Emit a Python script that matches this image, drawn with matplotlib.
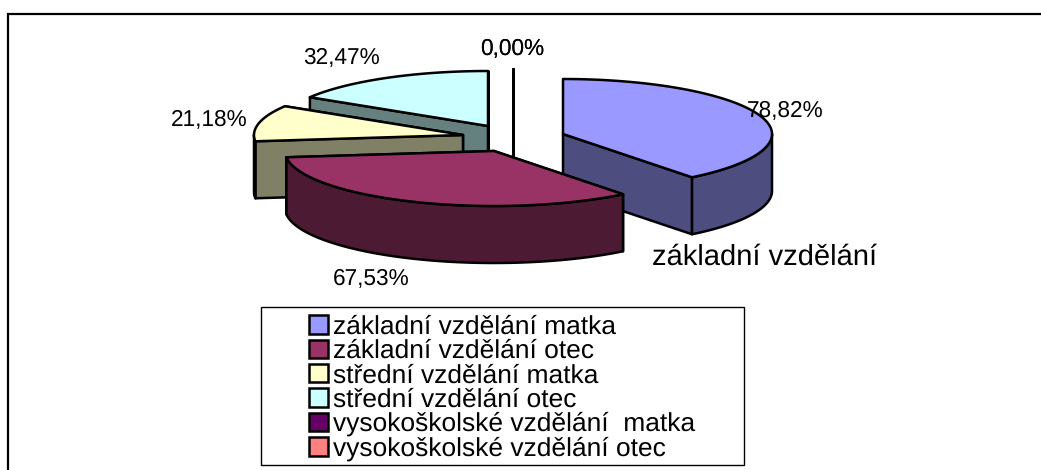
import numpy as np
import matplotlib
matplotlib.use("Agg")
import matplotlib.pyplot as plt
from matplotlib.colors import to_rgb
from matplotlib.patches import Polygon, Rectangle

plt.rcParams['font.family'] = ['Liberation Sans', 'DejaVu Sans']
plt.rcParams['text.hinting'] = 'no_hinting'

# Chart data
categories = ["základní vzdělání matka", "základní vzdělání otec", "střední vzdělání matka",
              "střední vzdělání otec", "vysokoškolské vzdělání  matka", "vysokoškolské vzdělání otec"]
percent = [78.82, 67.53, 21.18, 32.47, 0.0, 0.0]
colors = ["#9999FF", "#993366", "#FFFFCC", "#CCFFFF", "#660066", "#FF8080"]
group_label = "základní vzdělání"

# Layout in image pixels (the axes spans the whole figure, y pointing down)
W, H = 1041, 470
RX, RY, DEPTH = 209, 55, 57
centers = [(563, 134), (494, 151), (463, 135), (488, 126), (513, 124), (513, 124)]
label_pos = [(785, 111), (371, 279), (209, 120), (341, 58), (512, 49), (512, 49)]
draw_order = [3, 4, 5, 2, 0, 1]  # back to front
EDGE = 1.8


def rim_point(center, angle):
    # angle in degrees, clockwise from 12 o'clock
    a = np.radians(angle)
    return center[0] + RX * np.sin(a), center[1] - RY * np.cos(a)


def arc(center, start, end):
    angles = np.linspace(start, end, max(int(end - start) * 2, 2))
    return [rim_point(center, a) for a in angles]


def shifted(points):
    return [(x, y + DEPTH) for x, y in points]


def add_poly(ax, points, color):
    ax.add_patch(Polygon(points, closed=True, facecolor=color, edgecolor='black',
                         linewidth=EDGE, joinstyle='round'))


def draw_slice(ax, center, start, end, color):
    dark = tuple(c * 0.5 for c in to_rgb(color))

    # cut faces first, the hidden ones end up under the rim and the top
    faces = sorted([start, end], key=lambda a: -np.cos(np.radians(a)))
    for angle in faces:
        edge = [center, rim_point(center, angle)]
        add_poly(ax, edge + shifted(edge)[::-1], dark)

    # outer wall, only the part on the front half of the ellipse
    low, high = max(start, 90), min(end, 270)
    if high > low:
        wall = arc(center, low, high)
        add_poly(ax, wall + shifted(wall)[::-1], dark)

    add_poly(ax, [center] + arc(center, start, end), color)


fig = plt.figure(figsize=(W / 100, H / 100), dpi=100)
ax = fig.add_axes([0, 0, 1, 1])
ax.set_xlim(0, W)
ax.set_ylim(H, 0)
ax.axis('off')

# outer frame, cut off at the right and the bottom
ax.plot([8, 8, W], [H, 14, 14], color='black', linewidth=1.6, solid_joinstyle='miter')

total = sum(percent)
edges = np.concatenate([[0], np.cumsum(percent)]) / total * 360

for i in draw_order:
    draw_slice(ax, centers[i], edges[i], edges[i + 1], colors[i])

for value, (x, y) in zip(percent, label_pos):
    text = f"{value:.2f}".replace('.', ',') + "%"
    ax.text(x, y, text, fontsize=16.3, ha='center', va='center')

ax.text(765, 257, group_label, fontsize=21, ha='center', va='center')

# Legend box
ax.add_patch(Rectangle((261, 307), 483, 158, facecolor='white', edgecolor='black', linewidth=1.0))
handles = [Rectangle((0, 0), 1, 1, facecolor=c, edgecolor='black', linewidth=1.8) for c in colors]
leg = ax.legend(handles, categories, loc='upper left', bbox_to_anchor=(309 / W, 1 - 315 / H),
                bbox_transform=ax.transAxes, frameon=False, fontsize=19, borderpad=0, borderaxespad=0,
                labelspacing=0.0, handlelength=0.72, handleheight=0.7, handletextpad=0.2)

fig.savefig("out.png", dpi=100)
